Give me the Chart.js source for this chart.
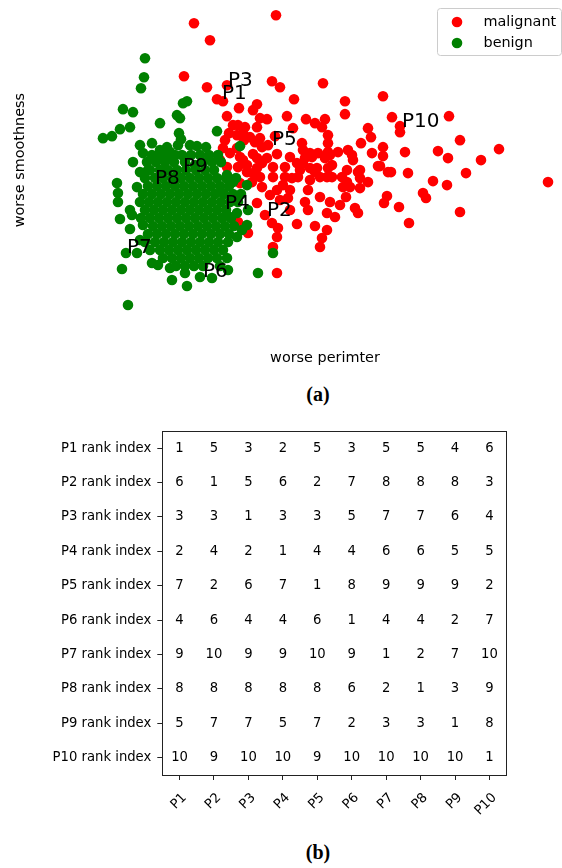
<!DOCTYPE html>
<html>
<head>
<meta charset="utf-8">
<script src="https://cdn.jsdelivr.net/npm/chart.js@4.4.0/dist/chart.umd.min.js"></script>
<style>
  html, body { margin: 0; padding: 0; background: #fff; }
  #page { position: relative; width: 562px; height: 868px; overflow: hidden; }
  canvas { position: absolute; left: 0; }
  .cap { position: absolute; left: 268px; width: 100px; text-align: center;
         font: bold 20px "Liberation Serif", serif; line-height: 21px; color: #000; }
</style>
</head>
<body>
<div id="page">
  <canvas id="scatter" width="562" height="375" style="top:0"></canvas>
  <div class="cap" style="top:384px">(a)</div>
  <canvas id="ranks" width="562" height="418" style="top:417px"></canvas>
  <div class="cap" style="top:842px">(b)</div>
</div>
<script>
// worse perimeter / worse smoothness pairs
const malignant = [
  [95,0.2185],[136,0.2225],[103,0.210],[90,0.192],[101.5,0.1865],[111.5,0.1875],[106.5,0.1805],[109.5,0.1795],[117.5,0.176],[124.5,0.175],
  [126.5,0.178],[111.5,0.172],[114.5,0.1675],[117,0.1675],[120.5,0.1665],[126.5,0.1665],[131.5,0.1705],[128,0.171],[112.5,0.1635],[119.5,0.1635],
  [120,0.160],[110.5,0.160],[116.5,0.1625],[123,0.1615],[125.5,0.159],[128,0.161],[135.5,0.162],[134,0.1895],[138,0.1865],[159.5,0.1885],
  [145,0.1805],[170.5,0.1795],[170.5,0.173],[189.5,0.182],[141.5,0.172],[151,0.1705],[155.5,0.1685],[160.5,0.1705],[159,0.1665],[144.5,0.166],
  [162,0.1625],[162,0.1585],[182,0.166],[183.5,0.1615],[194,0.1715],[198,0.167],[198,0.164],[178.5,0.1585],[189.5,0.1565],[200.5,0.154],
  [217,0.1545],[149,0.1585],[149.5,0.155],[136.5,0.153],[124.5,0.153],[129,0.1565],[132,0.1575],[153,0.1535],[157,0.1535],[162,0.154],
  [167,0.154],[172,0.155],[174,0.1525],[184,0.1535],[189.5,0.152],[222.5,0.172],[228,0.160],[222,0.151],[247.5,0.1555],[238.5,0.150],
  [231,0.1435],[188,0.147],[192,0.144],[193.5,0.144],[202,0.1435],[214.5,0.1395],[221.5,0.1375],[272,0.139],[209.5,0.1335],[211,0.131],
  [191.5,0.132],[190,0.1285],[197.5,0.1265],[228,0.124],[202.5,0.1185],[187,0.147],[174.5,0.150],[177,0.144],[182,0.139],[178,0.136],
  [163,0.1525],[162,0.146],[164,0.1415],[169,0.1415],[171.5,0.139],[169.5,0.1365],[171,0.1315],[168,0.1275],[165.5,0.1215],[175.5,0.126],
  [177,0.1235],[163,0.129],[161.5,0.1235],[161.5,0.115],[159,0.111],[158,0.1065],[155.5,0.117],[146.5,0.118],[152,0.125],[150.5,0.129],
  [158,0.1315],[152,0.135],[143,0.135],[142,0.131],[136.5,0.135],[126.5,0.1285],[130.5,0.1225],[134,0.1185],[137,0.116],[136.5,0.1115],
  [134.5,0.1065],[136.5,0.0935],[122,0.1135],[147,0.1415],[148,0.145],[153,0.146],[155.5,0.144],[150.5,0.151],[140.5,0.1465],[140.5,0.1415],
  [144,0.141],[134.5,0.1415],[128,0.1415],[124.5,0.1435],[129,0.1485],[121.5,0.1475],[119.5,0.150],[131.5,0.151],[109.5,0.156],[113,0.1535],
  [116.5,0.156],[118,0.1515],[126.5,0.151],[108,0.150],[111.5,0.1465],[117,0.1465],[121.5,0.144],[126.5,0.146],[134.5,0.1465],[143,0.1515],
  [146.5,0.1485],[154,0.1515],[153,0.140],[156.5,0.146],[118,0.1385],[171.5,0.145],[160.5,0.151],[164,0.1475],[149.5,0.1485],[158,0.1415],
  [161.5,0.1415],[173,0.1365],[178,0.141],[178,0.145],[117,0.119],[124,0.139],[129,0.1365],[133,0.1325],[138,0.130],[143,0.125],[139.5,0.1375]
];

const benign = [
  [70.5,0.201],[70,0.1915],[68.5,0.186],[89.5,0.1785],[91.5,0.1795],[59.5,0.1755],[64.5,0.174],[86.5,0.1725],[88,0.171],[78,0.1685],
  [58,0.1655],[63,0.1665],[49.5,0.161],[54,0.162],[87.5,0.1635],[88.5,0.1605],[106.5,0.1645],[118,0.157],[134.5,0.1035],[127,0.0935],
  [62,0.0775],[59,0.0955],[61,0.1035],[66.5,0.1035],[56.5,0.1385],[57,0.1335],[57,0.129],[58,0.1205],[63,0.125],[64,0.1225],
  [63,0.1155],[69.5,0.1175],[68,0.110],[74,0.0985],[77,0.0975],[83,0.096],[84,0.090],[91.5,0.087],[90.5,0.0935],[98,0.0915],
  [104,0.091],[112,0.095],[111.5,0.101],[116.5,0.1115],[119,0.115],[121.5,0.1175],[116.5,0.1235],[113,0.1215],[114.5,0.139],[121.5,0.1375],
  [122,0.125],[111.5,0.1425],[109.5,0.1335],[68,0.1575],[74,0.1585],[78,0.155],[81.5,0.1565],[87,0.1575],[96.5,0.157],[101,0.1565],
  [64.5,0.149],[69.5,0.1535],[83,0.154],[85.5,0.1525],[66.5,0.1365],[68,0.144],[72,0.145],[93,0.1575],[95.5,0.1475],
  [74,0.1525],[78.5,0.1525],[83,0.1525],[89,0.1525],[93.5,0.1525],[98,0.1525],[102.5,0.1525],[107,0.1525],
  [71.5,0.149],[76,0.149],[80.5,0.149],[85,0.149],[90.5,0.149],[99.5,0.149],[104,0.149],[108.5,0.149],
  [73,0.145],[78,0.145],[82,0.145],[86.5,0.145],[91,0.145],[96,0.145],[100.5,0.145],[105,0.145],
  [70.5,0.141],[75.5,0.141],[79.5,0.141],[84,0.141],[88.5,0.141],[93,0.141],[97.5,0.141],[102,0.141],[106.5,0.141],[111,0.141],[116,0.141],
  [72,0.137],[76.5,0.137],[81,0.137],[85.5,0.137],[90,0.137],[94.5,0.137],[99,0.137],[103.5,0.137],[108,0.137],[112.5,0.137],
  [69.5,0.133],[74,0.133],[78.5,0.133],[83,0.133],[87.5,0.133],[92,0.133],[96.5,0.133],[101,0.133],[105.5,0.133],[110,0.133],[114.5,0.133],[118.5,0.133],
  [68,0.129],[72.5,0.129],[77,0.129],[81.5,0.129],[86,0.129],[90.5,0.129],[95,0.129],[99.5,0.129],[104,0.129],[108.5,0.129],[113,0.129],[117,0.129],
  [70.5,0.125],[75,0.125],[79.5,0.125],[84,0.125],[88.5,0.125],[93,0.125],[97.5,0.125],[102,0.125],[106.5,0.125],[111,0.125],
  [68.5,0.121],[73,0.121],[77.5,0.121],[82,0.121],[86.5,0.121],[91,0.121],[95.5,0.121],[100,0.121],[104.5,0.121],[109,0.121],[113.5,0.121],
  [74.5,0.117],[79,0.117],[83.5,0.117],[88,0.117],[92.5,0.117],[97,0.117],[101.5,0.117],[106,0.117],[110.5,0.117],[115,0.117],
  [72,0.113],[76.5,0.113],[81,0.113],[85.5,0.113],[90,0.113],[94.5,0.113],[99,0.113],[103.5,0.113],[108,0.113],[112.5,0.113],
  [70.5,0.109],[75.5,0.109],[80,0.109],[84.5,0.109],[89,0.109],[93.5,0.109],[98,0.109],[102.5,0.109],[107,0.109],[112,0.109],
  [73,0.105],[78,0.105],[82.5,0.105],[87,0.105],[91.5,0.105],[96,0.105],[100.5,0.105],[105,0.105],[109.5,0.105],
  [79.5,0.101],[84,0.101],[88.5,0.101],[93,0.101],[97.5,0.101],[102,0.101],[106.5,0.101],
  [86,0.097],[90.5,0.097],[95,0.097],[99.5,0.097],[108,0.097]
];

// text labels: [text, perimeter, smoothness] at the lower-left of each label
const pointNames = [
  ['P1',109,0.1805],['P2',131.5,0.122],['P3',112,0.187],['P4',110.5,0.1255],['P5',134,0.1575],
  ['P6',99.5,0.0915],['P7',61.5,0.1035],['P8',75.5,0.138],['P9',89.5,0.144],['P10',199,0.1665]
];

const rankCols = ['P1','P2','P3','P4','P5','P6','P7','P8','P9','P10'];
const rankRows = ['P1 rank index','P2 rank index','P3 rank index','P4 rank index','P5 rank index',
                  'P6 rank index','P7 rank index','P8 rank index','P9 rank index','P10 rank index'];
const rankValues = [
  [1,5,3,2,5,3,5,5,4,6],
  [6,1,5,6,2,7,8,8,8,3],
  [3,3,1,3,3,5,7,7,6,4],
  [2,4,2,1,4,4,6,6,5,5],
  [7,2,6,7,1,8,9,9,9,2],
  [4,6,4,4,6,1,4,4,2,7],
  [9,10,9,9,10,9,1,2,7,10],
  [8,8,8,8,8,6,2,1,3,9],
  [5,7,7,5,7,2,3,3,1,8],
  [10,9,10,10,9,10,10,10,10,1]
];

Chart.defaults.font.family = '"DejaVu Sans", sans-serif';
Chart.defaults.color = '#000';

const pointLabels = {
  id: 'pointLabels',
  afterDatasetsDraw(chart) {
    const {ctx, scales: {x, y}} = chart;
    ctx.save();
    ctx.font = '20px "DejaVu Sans"';
    ctx.fillStyle = '#000';
    ctx.textAlign = 'left';
    ctx.textBaseline = 'alphabetic';
    pointNames.forEach(([t, px, py]) => ctx.fillText(t, x.getPixelForValue(px), y.getPixelForValue(py)));
    ctx.restore();
  }
};

const legendBox = {
  id: 'legendBox',
  afterDraw(chart) {
    const ctx = chart.ctx;
    const left = chart.width - 124.5, top = 8.5;
    ctx.save();
    ctx.beginPath();
    ctx.roundRect(left, top, 124, 47, 3);
    ctx.fillStyle = 'rgba(255,255,255,0.8)';
    ctx.fill();
    ctx.strokeStyle = '#cccccc';
    ctx.lineWidth = 1;
    ctx.stroke();
    ctx.font = '14.4px "DejaVu Sans"';
    ctx.textBaseline = 'middle';
    chart.data.datasets.forEach((ds, i) => {
      const cy = top + 13.5 + i * 21;
      ctx.beginPath();
      ctx.arc(left + 19.5, cy, 5.3, 0, Math.PI * 2);
      ctx.fillStyle = ds.backgroundColor;
      ctx.fill();
      ctx.fillStyle = '#000';
      ctx.fillText(ds.label, left + 46, cy);
    });
    ctx.restore();
  }
};

new Chart(document.getElementById('scatter'), {
  type: 'scatter',
  data: {
    datasets: [
      { label: 'malignant', data: malignant.map(([x, y]) => ({x, y})), backgroundColor: '#ff0000',
        pointRadius: 5.3, borderWidth: 0, order: 2 },
      { label: 'benign', data: benign.map(([x, y]) => ({x, y})), backgroundColor: '#008000',
        pointRadius: 5.3, borderWidth: 0, order: 1 }
    ]
  },
  options: {
    responsive: false,
    animation: false,
    events: [],
    layout: { padding: { top: 5, right: 7, bottom: 0, left: 0 } },
    scales: {
      x: {
        type: 'linear', min: 45.5, max: 275.5,
        ticks: { display: false },
        grid: { display: false, drawTicks: false },
        border: { display: false },
        title: { display: true, text: 'worse perimter', color: '#000', font: { size: 14.4 },
                 padding: { top: 34.4, bottom: 8.4 } }
      },
      y: {
        type: 'linear', min: 0.0725, max: 0.2275,
        ticks: { display: false },
        grid: { display: false, drawTicks: false },
        border: { display: false },
        title: { display: true, text: 'worse smoothness', color: '#000', font: { size: 14.4 },
                 padding: { top: 11.4, bottom: 66.3 } }
      }
    },
    plugins: { legend: { display: false }, tooltip: { enabled: false } }
  },
  plugins: [pointLabels, legendBox]
});

// rank table
const cells = [];
rankRows.forEach((row, r) => rankCols.forEach((col, c) => cells.push({ x: col, y: row, v: rankValues[r][c] })));

const frame = {
  id: 'frame',
  afterDraw(chart) {
    const {ctx, chartArea: a} = chart;
    ctx.save();
    ctx.strokeStyle = '#222';
    ctx.lineWidth = 1;
    ctx.strokeRect(Math.round(a.left) + 0.5, Math.round(a.top) + 0.5, Math.round(a.right - a.left), Math.round(a.bottom - a.top));
    ctx.restore();
  }
};

const cellText = {
  id: 'cellText',
  afterDatasetsDraw(chart) {
    const ctx = chart.ctx;
    const ds = chart.data.datasets[0];
    ctx.save();
    ctx.font = '13.2px "DejaVu Sans"';
    ctx.fillStyle = '#000';
    ctx.textAlign = 'center';
    ctx.textBaseline = 'middle';
    chart.getDatasetMeta(0).data.forEach((pt, i) => ctx.fillText(String(ds.data[i].v), pt.x, pt.y));
    ctx.restore();
  }
};

const tickGrid = { display: true, drawOnChartArea: false, drawTicks: true, tickLength: 5, color: '#222', lineWidth: 1, offset: false };

new Chart(document.getElementById('ranks'), {
  type: 'scatter',
  data: { datasets: [{ data: cells, pointRadius: 0, backgroundColor: 'rgba(0,0,0,0)' }] },
  options: {
    responsive: false,
    animation: false,
    events: [],
    layout: { padding: { top: 11, right: 55.3, bottom: 0, left: 0 } },
    scales: {
      x: {
        type: 'category', labels: rankCols, offset: true,
        grid: tickGrid,
        border: { display: false },
        ticks: { color: '#000', font: { size: 13.2 }, minRotation: 45, maxRotation: 45, autoSkip: false,
                 padding: 10, labelOffset: 5 },
        afterFit: s => { s.height = 60; }
      },
      y: {
        type: 'category', labels: rankRows, offset: true,
        grid: tickGrid,
        border: { display: false },
        ticks: { color: '#000', font: { size: 13.2 }, padding: 6, autoSkip: false },
        afterFit: s => { s.width = 162.3; }
      }
    },
    plugins: { legend: { display: false }, tooltip: { enabled: false } }
  },
  plugins: [frame, cellText]
});
</script>
</body>
</html>
